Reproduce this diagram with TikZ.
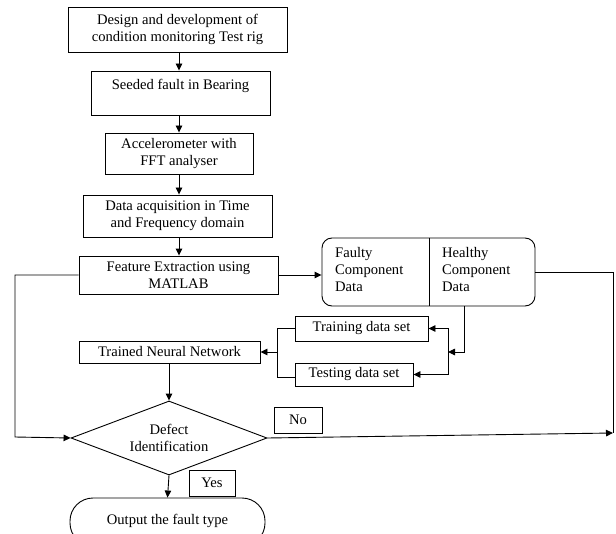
\documentclass[tikz,border=0pt]{standalone}
\usepackage{fontspec}
\setmainfont{Liberation Serif}
\usetikzlibrary{arrows.meta,shapes.geometric}
\begin{document}
\begin{tikzpicture}[x=1bp,y=-1bp,
  every node/.style={font=\fontsize{14.6bp}{17bp}\selectfont},
  lw/.style={line width=0.9bp},
  box/.style={draw,lw,align=center,inner sep=1bp},
  arr/.style={lw,-{Triangle[length=7bp,width=6.5bp]}},
  ln/.style={lw}]
\useasboundingbox (0,0) rectangle (616,534);
\node[box,minimum width=219bp,minimum height=45bp] (b1) at (177.5,29.5) {Design and development of\\condition monitoring Test rig};
\node[box,minimum width=179bp,minimum height=44bp] (b2) at (180.5,93) {Seeded fault in Bearing\\[0pt]~};
\node[box,minimum width=148bp,minimum height=41bp] (b3) at (179,153.5) {Accelerometer with\\FFT analyser};
\node[box,minimum width=189bp,minimum height=42bp] (b4) at (177.5,216) {Data acquisition in Time\\and Frequency domain};
\node[box,minimum width=199bp,minimum height=38bp] (b5) at (178.5,275) {Feature Extraction using\\MATLAB};
\node[draw,lw,rounded corners=10bp,minimum width=213bp,minimum height=68bp] (fh) at (428.5,272) {};
\node[anchor=west,align=left,inner sep=0pt] (ft) at (335,270) {Faulty\\Component\\Data};
\node[anchor=west,align=left,inner sep=0pt] (ht) at (442,270) {Healthy\\Component\\Data};
\coordinate (dv) at (429,0);
\draw[ln] (fh.north -| dv) -- (fh.south -| dv);
\node[box,minimum width=133bp,minimum height=25bp] (train) at (361.5,328.5) {Training data set};
\node[box,minimum width=118bp,minimum height=23bp] (test) at (354,374.5) {Testing data set};
\node[box,minimum width=181bp,minimum height=22bp] (tnn) at (169.5,352) {Trained Neural Network};
\node[draw,lw,diamond,aspect=2.65,inner sep=0pt,minimum width=196bp,minimum height=74bp,align=center] (dia) at (169,438) {Defect\\Identification};
\node[box,minimum width=48bp,minimum height=26bp] (no) at (298,420) {No};
\node[box,minimum width=46bp,minimum height=26bp] (yes) at (212,483) {Yes};
\node[draw,lw,rounded corners=23bp,minimum width=195bp,minimum height=48bp] (out) at (167.5,522) {\raisebox{6bp}{Output the fault type}};
% main chain
\draw[arr] (b1.south -| b3) -- (b2.north -| b3);
\draw[arr] (b2.south -| b3) -- (b3.north);
\draw[arr] (b3.south) -- (b4.north -| b3);
\draw[arr] (b4.south -| b3) -- (b5.north -| b3);
\draw[arr] (b5.east) -- (b5.east -| fh.west);
% healthy to data sets
\coordinate (hd) at (464,352);
\coordinate (rb) at (448,352);
\draw[arr] (fh.south -| hd) |- (rb);
\draw[arr] (rb) |- (train.east);
\draw[arr] (rb) |- (test.east);
\coordinate (lb) at (277,352);
\coordinate (lbt) at (277,377);
\draw[ln] (train.west) -| (lb);
\draw[ln] (test.west |- lbt) -- (lbt) -- (lb);
\draw[arr] (lb) -- (tnn.east);
\draw[arr] (tnn.south -| dia) -- (dia.north);
% left loop
\coordinate (lc) at (15,437);
\draw[arr] (b5.west) -| (lc) -- (dia.west);
% right loop
\coordinate (rc) at (613,433);
\draw[ln] (fh.east) -| (rc);
\draw[arr] (dia.east) -- (rc);
% yes
\draw[arr] (dia.south) -- (out.north);
\end{tikzpicture}
\end{document}
